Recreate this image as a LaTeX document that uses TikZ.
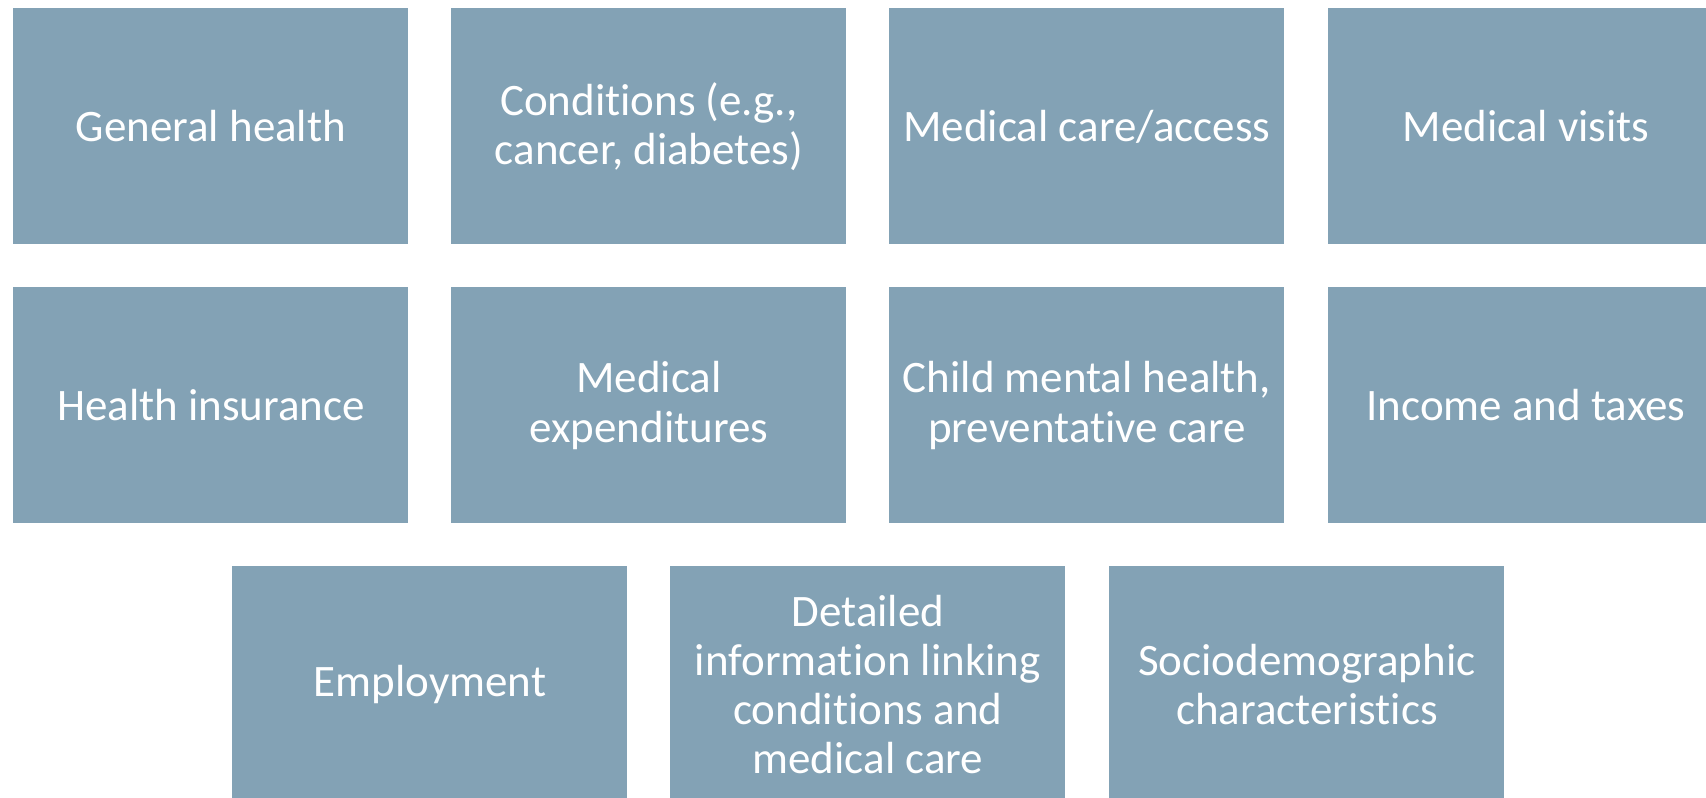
\documentclass[tikz,border=0pt]{standalone}
\usepackage{fontspec}
\setmainfont[Ligatures=NoCommon]{Carlito}
\definecolor{boxblue}{RGB}{131,162,181}
\tikzset{
  cell/.style={fill=boxblue, draw=none, anchor=north west, inner sep=0pt,
    minimum width=197.5pt, minimum height=118pt, text=white, align=center,
    font=\fontsize{22.5}{24.6}\selectfont},
}
\begin{document}
\begin{tikzpicture}[x=0.5pt,y=-0.5pt]
\useasboundingbox (0,0) rectangle (1706,797);
\clip (0,0) rectangle (1706,797);
\node[cell] (a1) at (13,8) {General health};
\node[cell] (a2) at (451,8) {Conditions (e.g.,\\cancer, diabetes)};
\node[cell] (a3) at (889,8) {Medical care/access};
\node[cell] (a4) at (1328,8) {Medical visits};
\node[cell] (b1) at (13,287) {Health insurance};
\node[cell] (b2) at (451,287) {Medical\\expenditures};
\node[cell] (b3) at (889,287) {Child mental health,\\preventative care};
\node[cell] (b4) at (1328,287) {Income and taxes};
\node[cell] (c1) at (232,566) {Employment};
\node[cell] (c2) at (670,566) {Detailed\\information linking\\conditions and\\medical care};
\node[cell] (c3) at (1109,566) {Sociodemographic\\characteristics};
\end{tikzpicture}
\end{document}
